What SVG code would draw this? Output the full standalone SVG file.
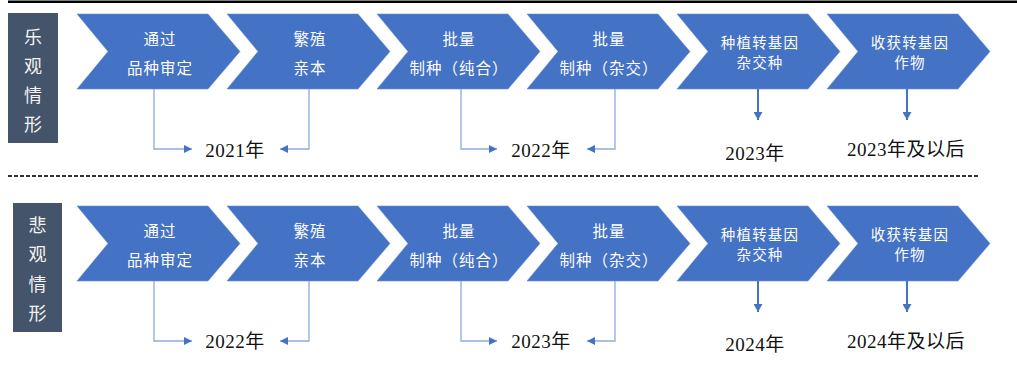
<svg xmlns="http://www.w3.org/2000/svg" width="1017" height="371" viewBox="0 0 1017 371">
<defs>
<style>
.chev{fill:#4472C4;stroke:#6D8FD3;stroke-width:0.6}
.side{fill:#44546A}
.sidet{fill:#F2F2F2;font-family:"Noto Sans CJK SC",sans-serif;font-size:18px;text-anchor:middle}
.ct{fill:#FFFFFF;font-family:"Noto Sans CJK SC",sans-serif;font-size:15.5px;letter-spacing:1px;text-anchor:middle}
.ct2{fill:#FFFFFF;font-family:"Noto Sans CJK SC",sans-serif;font-size:14.5px;letter-spacing:1.2px;text-anchor:middle}
.yr{fill:#111111;font-family:"Liberation Serif","Noto Sans CJK SC",serif;font-size:19px;letter-spacing:0.5px;text-anchor:middle}
.thin{fill:none;stroke:#8FAADC;stroke-width:1.3}
.thick{fill:none;stroke:#4472C4;stroke-width:2}
</style>
<marker id="ah" markerUnits="userSpaceOnUse" markerWidth="8" markerHeight="8" refX="8" refY="4" orient="auto">
<path d="M0,0 L8,4 L0,8 Z" fill="#4472C4"/>
</marker>
<marker id="ahd" markerUnits="userSpaceOnUse" markerWidth="9" markerHeight="9" refX="8" refY="4.5" orient="auto">
<path d="M0,0 L8,4.5 L0,9 Z" fill="#4472C4"/>
</marker>
</defs>
<rect x="8" y="0.5" width="1009" height="2.5" fill="#000000"/>
<line x1="8" y1="176" x2="980" y2="176" stroke="#333333" stroke-width="2" stroke-dasharray="4,2"/>

<g id="label-opt">
<rect class="side" x="8" y="13" width="50" height="130"/>
<text class="sidet" x="33" y="44">乐</text>
<text class="sidet" x="33" y="73">观</text>
<text class="sidet" x="33" y="102">情</text>
<text class="sidet" x="33" y="131">形</text>
</g>

<g id="opt-1"><path class="chev" d="M77,14 H208 L240,51.5 L208,89 H77 L108,51.5 Z"/><text class="ct" x="160" y="45">通过</text><text class="ct" x="160" y="74">品种审定</text></g>
<g id="opt-2"><path class="chev" d="M227,14 H358 L390,51.5 L358,89 H227 L258,51.5 Z"/><text class="ct" x="310" y="45">繁殖</text><text class="ct" x="310" y="74">亲本</text></g>
<g id="opt-3"><path class="chev" d="M377,14 H508 L540,51.5 L508,89 H377 L408,51.5 Z"/><text class="ct" x="459" y="45">批量</text><text class="ct" x="459" y="74">制种（纯合）</text></g>
<g id="opt-4"><path class="chev" d="M527,14 H658 L690,51.5 L658,89 H527 L558,51.5 Z"/><text class="ct" x="609" y="45">批量</text><text class="ct" x="609" y="74">制种（杂交）</text></g>
<g id="opt-5"><path class="chev" d="M677,14 H808 L840,51.5 L808,89 H677 L708,51.5 Z"/><text class="ct2" x="760" y="48">种植转基因</text><text class="ct2" x="760" y="68">杂交种</text></g>
<g id="opt-6"><path class="chev" d="M827,14 H958 L990,51.5 L958,89 H827 L858,51.5 Z"/><text class="ct2" x="910" y="48">收获转基因</text><text class="ct2" x="910" y="68">作物</text></g>

<g id="opt-years">
<text class="yr" x="235" y="157">2021年</text>
<text class="yr" x="541" y="157">2022年</text>
<text class="yr" x="755" y="160">2023年</text>
<text class="yr" x="906" y="156">2023年及以后</text>
</g>

<g id="label-pes">
<rect class="side" x="13" y="203" width="49" height="129"/>
<text class="sidet" x="37.5" y="232">悲</text>
<text class="sidet" x="37.5" y="261">观</text>
<text class="sidet" x="37.5" y="291">情</text>
<text class="sidet" x="37.5" y="320">形</text>
</g>

<g id="pes-1"><path class="chev" d="M77,206 H208 L240,243.5 L208,281 H77 L108,243.5 Z"/><text class="ct" x="160" y="237">通过</text><text class="ct" x="160" y="266">品种审定</text></g>
<g id="pes-2"><path class="chev" d="M227,206 H358 L390,243.5 L358,281 H227 L258,243.5 Z"/><text class="ct" x="310" y="237">繁殖</text><text class="ct" x="310" y="266">亲本</text></g>
<g id="pes-3"><path class="chev" d="M377,206 H508 L540,243.5 L508,281 H377 L408,243.5 Z"/><text class="ct" x="459" y="237">批量</text><text class="ct" x="459" y="266">制种（纯合）</text></g>
<g id="pes-4"><path class="chev" d="M527,206 H658 L690,243.5 L658,281 H527 L558,243.5 Z"/><text class="ct" x="609" y="237">批量</text><text class="ct" x="609" y="266">制种（杂交）</text></g>
<g id="pes-5"><path class="chev" d="M677,206 H808 L840,243.5 L808,281 H677 L708,243.5 Z"/><text class="ct2" x="760" y="240">种植转基因</text><text class="ct2" x="760" y="260">杂交种</text></g>
<g id="pes-6"><path class="chev" d="M827,206 H958 L990,243.5 L958,281 H827 L858,243.5 Z"/><text class="ct2" x="910" y="240">收获转基因</text><text class="ct2" x="910" y="260">作物</text></g>

<g id="pes-years">
<text class="yr" x="235" y="348">2022年</text>
<text class="yr" x="541" y="348">2023年</text>
<text class="yr" x="755" y="351">2024年</text>
<text class="yr" x="906" y="348">2024年及以后</text>
</g>

<g id="connectors">
<path class="thin" d="M154,89 V149 H192" marker-end="url(#ah)"/>
<path class="thin" d="M309,89 V149 H280" marker-end="url(#ah)"/>
<path class="thin" d="M461,89 V149 H497" marker-end="url(#ah)"/>
<path class="thin" d="M615,89 V149 H587" marker-end="url(#ah)"/>
<path class="thick" d="M758,89 V120" marker-end="url(#ahd)"/>
<path class="thick" d="M907,89 V120" marker-end="url(#ahd)"/>
<path class="thin" d="M154,281 V341 H192" marker-end="url(#ah)"/>
<path class="thin" d="M309,281 V341 H280" marker-end="url(#ah)"/>
<path class="thin" d="M461,281 V341 H497" marker-end="url(#ah)"/>
<path class="thin" d="M615,281 V341 H587" marker-end="url(#ah)"/>
<path class="thick" d="M758,281 V312" marker-end="url(#ahd)"/>
<path class="thick" d="M907,281 V312" marker-end="url(#ahd)"/>
</g>
</svg>
